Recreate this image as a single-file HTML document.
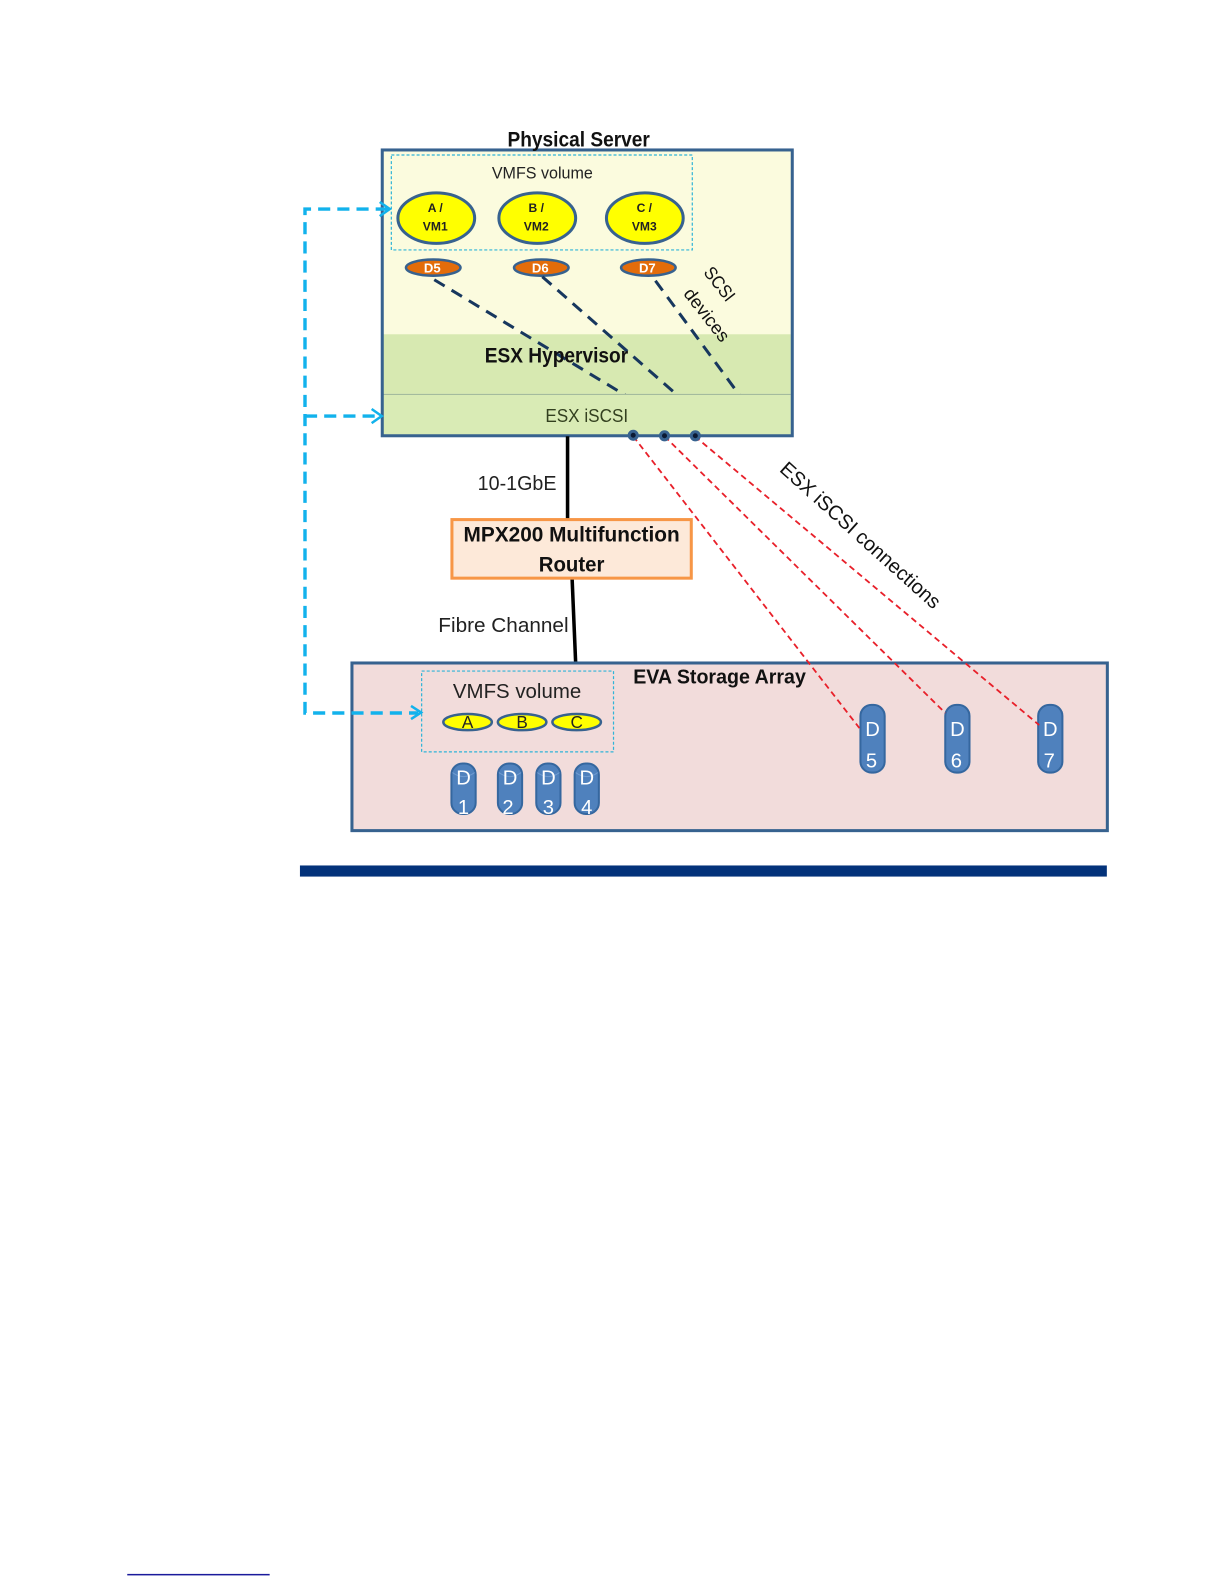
<!DOCTYPE html>
<html><head><meta charset="utf-8"><style>html,body{margin:0;padding:0;background:#fff}svg{display:block}text{font-family:"Liberation Sans",sans-serif}</style></head><body>
<svg width="1224" height="1584" viewBox="0 0 1212 1568.5" xmlns="http://www.w3.org/2000/svg">
<defs>
<clipPath id="upper"><rect x="379" y="150" width="404" height="240"/></clipPath>
<g id="cyl"><rect x="-12" y="0" width="24" height="50" rx="11" fill="#4f81bd" stroke="#35679f" stroke-width="2"/><path d="M-11,9 Q0,17 11,9" fill="none" stroke="#6f9bd0" stroke-width="1"/></g>
</defs>
<rect x="378.5" y="148.5" width="406" height="283" fill="#fbfbde"/>
<rect x="379" y="331" width="404" height="59" fill="#d7e9b1"/>
<rect x="379" y="390" width="404" height="41" fill="#d9ebb5"/>
<line x1="379" y1="390.5" x2="783" y2="390.5" stroke="#9db49a" stroke-width="1"/>
<rect x="378.5" y="148.5" width="406" height="283" fill="none" stroke="#37628f" stroke-width="3"/>
<text x="573" y="145" font-size="21" font-weight="bold" text-anchor="middle" fill="#111" textLength="141" lengthAdjust="spacingAndGlyphs">Physical Server</text>
<rect x="387.5" y="153.5" width="298" height="94" fill="none" stroke="#2fb4d8" stroke-width="1.2" stroke-dasharray="3 2"/>
<text x="537" y="177" font-size="16" text-anchor="middle" fill="#222" textLength="100" lengthAdjust="spacingAndGlyphs">VMFS volume</text>
<g fill="#ffff00" stroke="#37628f" stroke-width="3">
<ellipse cx="432" cy="216" rx="38" ry="25"/><ellipse cx="532" cy="216" rx="38" ry="25"/><ellipse cx="638.5" cy="216" rx="38" ry="25"/>
</g>
<g font-size="12" font-weight="bold" text-anchor="middle" fill="#222">
<text x="431" y="210">A /</text><text x="431" y="228">VM1</text>
<text x="531" y="210">B /</text><text x="531" y="228">VM2</text>
<text x="638" y="210">C /</text><text x="638" y="228">VM3</text>
</g>
<g fill="#e36c0a" stroke="#37628f" stroke-width="2.5">
<ellipse cx="429" cy="265" rx="27" ry="8"/><ellipse cx="536" cy="265" rx="27" ry="8"/><ellipse cx="642" cy="265" rx="27" ry="8"/>
</g>
<g font-size="13" font-weight="bold" text-anchor="middle" fill="#fff">
<text x="428" y="270">D5</text><text x="535" y="270">D6</text><text x="641" y="270">D7</text>
</g>
<g stroke="#17375e" stroke-width="3" stroke-dasharray="12 8" fill="none" clip-path="url(#upper)">
<line x1="430" y1="277" x2="650" y2="410"/>
<line x1="537" y1="274" x2="692" y2="410"/>
<line x1="649" y1="278" x2="746" y2="410"/>
</g>
<text transform="translate(696,270) rotate(52)" font-size="18" fill="#111" textLength="38" lengthAdjust="spacingAndGlyphs">SCSI</text>
<text transform="translate(676,291) rotate(52)" font-size="18" fill="#111" textLength="62" lengthAdjust="spacingAndGlyphs">devices</text>
<text x="551" y="359" font-size="21" font-weight="bold" text-anchor="middle" fill="#111" textLength="142" lengthAdjust="spacingAndGlyphs">ESX Hypervisor</text>
<text x="581" y="418" font-size="18" text-anchor="middle" fill="#33401f" textLength="82" lengthAdjust="spacingAndGlyphs">ESX iSCSI</text>
<g stroke="#000" stroke-width="3.5" fill="none">
<line x1="562" y1="432" x2="562" y2="515"/>
<line x1="566.5" y1="573" x2="570" y2="656"/>
</g>
<text x="473" y="485" font-size="20" fill="#222" textLength="78" lengthAdjust="spacingAndGlyphs">10-1GbE</text>
<rect x="447.5" y="514.5" width="237" height="58" fill="#fde9d9" stroke="#f79646" stroke-width="3"/>
<text x="566" y="536" font-size="21" font-weight="bold" text-anchor="middle" fill="#111" textLength="214" lengthAdjust="spacingAndGlyphs">MPX200 Multifunction</text>
<text x="566" y="566" font-size="21" font-weight="bold" text-anchor="middle" fill="#111" textLength="65" lengthAdjust="spacingAndGlyphs">Router</text>
<text x="434" y="626" font-size="20" fill="#222" textLength="129" lengthAdjust="spacingAndGlyphs">Fibre Channel</text>
<rect x="348.5" y="656.5" width="748" height="166" fill="#f2dcdb" stroke="#37628f" stroke-width="3"/>
<text x="627" y="677" font-size="20" font-weight="bold" fill="#111" textLength="171" lengthAdjust="spacingAndGlyphs">EVA Storage Array</text>
<rect x="417.5" y="664.5" width="190" height="80" fill="none" stroke="#2fb4d8" stroke-width="1.2" stroke-dasharray="3 2"/>
<text x="512" y="691" font-size="20" text-anchor="middle" fill="#222" textLength="127" lengthAdjust="spacingAndGlyphs">VMFS volume</text>
<g fill="#ffff00" stroke="#37628f" stroke-width="2.5">
<ellipse cx="463" cy="715" rx="24" ry="8"/><ellipse cx="517" cy="715" rx="24" ry="8"/><ellipse cx="571" cy="715" rx="24" ry="8"/>
</g>
<g font-size="17" text-anchor="middle" fill="#222">
<text x="463" y="721">A</text><text x="517" y="721">B</text><text x="571" y="721">C</text>
</g>
<use href="#cyl" x="459" y="756"/><use href="#cyl" x="505" y="756"/><use href="#cyl" x="543" y="756"/><use href="#cyl" x="581" y="756"/>
<g font-size="20" text-anchor="middle" fill="#fff">
<text x="459" y="777">D</text><text x="459" y="806">1</text>
<text x="505" y="777">D</text><text x="503" y="806">2</text>
<text x="543" y="777">D</text><text x="543" y="806">3</text>
<text x="581" y="777">D</text><text x="581" y="806">4</text>
</g>
<g fill="#4f81bd" stroke="#35679f" stroke-width="2">
<rect x="852" y="698" width="24" height="67" rx="11"/><rect x="936" y="698" width="24" height="67" rx="11"/><rect x="1028" y="698" width="24" height="67" rx="11"/>
</g>
<g font-size="20" text-anchor="middle" fill="#fff">
<text x="864" y="729">D</text><text x="863" y="760">5</text>
<text x="948" y="729">D</text><text x="947" y="760">6</text>
<text x="1040" y="729">D</text><text x="1039" y="760">7</text>
</g>
<g stroke="#e8202a" stroke-width="1.8" stroke-dasharray="6 4" fill="none">
<line x1="627" y1="432" x2="851" y2="721"/>
<line x1="658" y1="432" x2="936" y2="706"/>
<line x1="688" y1="432" x2="1029" y2="718"/>
</g>
<g fill="#0b1a33" stroke="#37628f" stroke-width="3">
<circle cx="627" cy="431" r="4"/><circle cx="658" cy="431.5" r="4"/><circle cx="688.5" cy="431.5" r="4"/>
</g>
<text transform="translate(771,466) rotate(42)" font-size="20" fill="#111" textLength="206" lengthAdjust="spacingAndGlyphs">ESX iSCSI connections</text>
<g stroke="#12b2ec" stroke-width="3.4" fill="none">
<path d="M384,207 H302 V706 H414" stroke-dasharray="12 7"/>
<path d="M302,412 H376" stroke-dasharray="12 7"/>
<path d="M376,200 L386,207 L376,214 M368,405 L378,412 L368,419 M407,699 L417,705.5 L407,712" stroke-width="2.5"/>
</g>
<rect x="297" y="857" width="799" height="11" fill="#03327a"/>
<rect x="126" y="1558.5" width="141" height="1.5" fill="#1a1a9c"/>
</svg>
</body></html>
